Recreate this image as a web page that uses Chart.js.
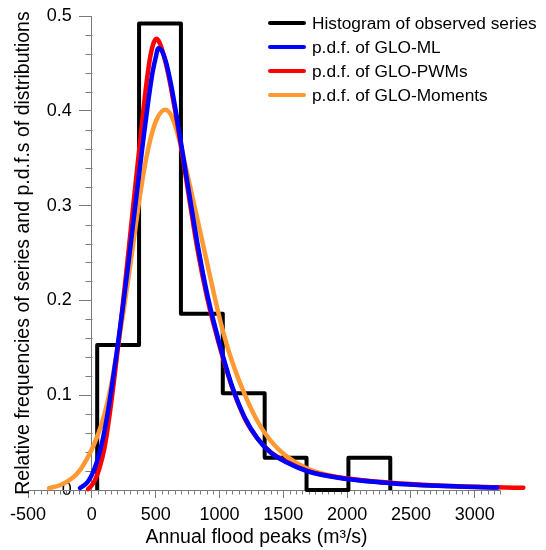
<!DOCTYPE html>
<html>
<head>
<meta charset="utf-8">
<script src="https://cdn.jsdelivr.net/npm/chart.js@4.4.1/dist/chart.umd.min.js"></script>
<style>
  body { margin: 0; background: #fff; }
  #wrap { width: 546px; height: 550px; }
</style>
</head>
<body>
<div id="wrap"><canvas id="chart" width="546" height="550"></canvas></div>
<script>
// histogram of the observed series
const binEdges = [42, 370, 698, 1026, 1354, 1682, 2010, 2338]
const relFreq = [0.153, 0.492, 0.186, 0.102, 0.034, 0, 0.034]

// p.d.f. of GLO-ML
const mlX = [-93, -60, -30, 0, 40, 80, 120, 160, 200, 240, 280, 320, 360, 400, 440, 475, 500, 521, 545, 580, 620, 660, 700, 760, 830, 900, 960, 1030, 1100, 1200, 1300, 1400, 1520, 1695, 1930, 2340, 2700, 3175]
const mlY = [0.002, 0.005, 0.009, 0.016, 0.03, 0.05, 0.078, 0.112, 0.15, 0.19, 0.232, 0.277, 0.322, 0.366, 0.408, 0.44, 0.456, 0.466, 0.464, 0.452, 0.428, 0.398, 0.365, 0.315, 0.258, 0.209, 0.175, 0.14, 0.109, 0.076, 0.054, 0.0395, 0.0295, 0.0195, 0.013, 0.0072, 0.0045, 0.0026]

// p.d.f. of GLO-PWMs
const pwmX = [-30, 0, 30, 60, 100, 140, 180, 220, 260, 300, 340, 380, 420, 455, 480, 505, 530, 560, 600, 650, 690, 760, 830, 900, 960, 1030, 1100, 1200, 1300, 1400, 1520, 1695, 1930, 2340, 2700, 3170, 3380]
const pwmY = [0.001, 0.005, 0.012, 0.023, 0.045, 0.08, 0.122, 0.168, 0.217, 0.268, 0.32, 0.37, 0.42, 0.455, 0.47, 0.476, 0.472, 0.46, 0.438, 0.402, 0.37, 0.31, 0.252, 0.205, 0.172, 0.138, 0.108, 0.075, 0.054, 0.04, 0.03, 0.02, 0.0135, 0.0076, 0.0048, 0.0029, 0.0023]

// p.d.f. of GLO-Moments
const momX = [-335, -250, -150, -93, -30, 23, 70, 114, 153, 200, 250, 300, 350, 400, 450, 505, 575, 630, 690, 740, 817, 894, 960, 1030, 1100, 1200, 1300, 1400, 1520, 1695, 1930, 2340, 2700, 3175]
const momY = [0.002, 0.005, 0.013, 0.021, 0.035, 0.05, 0.067, 0.088, 0.112, 0.148, 0.19, 0.236, 0.285, 0.33, 0.365, 0.39, 0.401, 0.393, 0.367, 0.338, 0.292, 0.245, 0.205, 0.166, 0.135, 0.1, 0.072, 0.052, 0.036, 0.022, 0.0135, 0.0074, 0.0044, 0.0025]

const xTickValues = [-500, 0, 500, 1000, 1500, 2000, 2500, 3000]
const yTickValues = [0, 0.1, 0.2, 0.3, 0.4, 0.5]

const axisColor = '#7a7a7a'
const fontFamily = '"Liberation Sans", Arial, sans-serif'

function toPoints(xs, ys) {
    return xs.map((x, i) => ({x: x, y: ys[i]}))
}

// outline of the histogram: up at the first edge, steps, down at the last edge
const histPoints = [{x: binEdges[0], y: 0}]
relFreq.forEach((f, i) => histPoints.push({x: binEdges[i], y: f}))
histPoints.push({x: binEdges[binEdges.length - 1], y: 0})

// minor ticks + bottom axis line (the axis runs on to 3200)
const minorTicks = {
    id: 'minorTicks',
    beforeDatasetsDraw(chart) {
        const c = chart.ctx
        const xs = chart.scales.x
        const ys = chart.scales.y
        const x0 = Math.round(xs.getPixelForValue(0)) + 0.5
        const y0 = Math.round(ys.getPixelForValue(0)) + 0.5
        c.save()
        c.strokeStyle = axisColor
        c.lineWidth = 1
        c.beginPath()
        c.moveTo(xs.getPixelForValue(-500), y0)
        c.lineTo(xs.getPixelForValue(3200), y0)
        for (let v = -500; v <= 3200; v += 50) {
            if (v % 500 === 0) continue
            const px = Math.round(xs.getPixelForValue(v)) + 0.5
            c.moveTo(px, y0)
            c.lineTo(px, y0 + 4)
        }
        for (let i = 1; i < 25; i++) {
            if (i % 5 === 0) continue
            const py = Math.round(ys.getPixelForValue(i * 0.02)) + 0.5
            c.moveTo(x0, py)
            c.lineTo(x0 - 7, py)
        }
        c.stroke()
        c.restore()
    }
}

// legend drawn inside the plot, top right
const boxLegend = {
    id: 'boxLegend',
    afterDraw(chart) {
        const c = chart.ctx
        c.save()
        c.font = '17.3px ' + fontFamily
        c.textBaseline = 'middle'
        c.textAlign = 'left'
        chart.data.datasets.forEach((ds, i) => {
            const y = 23 + i * 24
            c.strokeStyle = ds.borderColor
            c.lineWidth = 4
            c.lineCap = 'round'
            c.beginPath()
            c.moveTo(270, y)
            c.lineTo(304, y)
            c.stroke()
            c.fillStyle = '#000'
            c.fillText(ds.label, 312, y + 1)
        })
        c.restore()
    }
}

Chart.defaults.font.family = fontFamily
Chart.defaults.color = '#000'

const ctx = document.getElementById('chart')

const myChart = new Chart(ctx, {
    type: 'line',
    data: {
        datasets: [{
            label: 'Histogram of observed series',
            data: histPoints,
            borderColor: '#000000',
            borderWidth: 4,
            stepped: 'before',
            borderJoinStyle: 'round',
            clip: false,
            order: 4
        }, {
            label: 'p.d.f. of GLO-ML',
            data: toPoints(mlX, mlY),
            borderColor: '#0000ff',
            borderWidth: 4.5,
            cubicInterpolationMode: 'monotone',
            borderCapStyle: 'round',
            clip: false,
            order: 1
        }, {
            label: 'p.d.f. of GLO-PWMs',
            data: toPoints(pwmX, pwmY),
            borderColor: '#ff0000',
            borderWidth: 4.5,
            cubicInterpolationMode: 'monotone',
            borderCapStyle: 'round',
            clip: false,
            order: 2
        }, {
            label: 'p.d.f. of GLO-Moments',
            data: toPoints(momX, momY),
            borderColor: '#ff9933',
            borderWidth: 4.5,
            cubicInterpolationMode: 'monotone',
            borderCapStyle: 'round',
            clip: false,
            order: 3
        }]
    },
    options: {
        responsive: false,
        animation: false,
        layout: { padding: { left: 0, right: 61, top: 16, bottom: 0 } },
        elements: { point: { radius: 0 } },
        plugins: {
            legend: { display: false },
            tooltip: { enabled: false }
        },
        scales: {
            x: {
                type: 'linear',
                position: 'bottom',
                min: -500,
                bounds: 'data',
                // right end set here (not as options.max) so the red tail past it is still drawn
                afterDataLimits: (s) => { s.max = 3080 },
                afterBuildTicks: (s) => { s.ticks = xTickValues.map(v => ({value: v})) },
                afterFit: (s) => { s.height = 60 },
                ticks: {
                    font: { size: 18 }, padding: 6, maxRotation: 0, autoSkip: false,
                    callback: (v) => String(v)
                },
                grid: { drawOnChartArea: false, tickLength: 8, color: axisColor },
                border: { display: false },
                title: {
                    display: true,
                    text: 'Annual flood peaks (m³/s)',
                    font: { size: 19.5 },
                    padding: { top: 0, bottom: 1 }
                }
            },
            y: {
                type: 'linear',
                position: { x: 0 },
                min: 0,
                max: 0.5,
                afterBuildTicks: (s) => { s.ticks = yTickValues.map(v => ({value: v})) },
                ticks: {
                    font: { size: 18 },
                    // labels sit at the axis line, push them left past the tick marks
                    callback: (v) => String(v) + '    '
                },
                grid: { drawOnChartArea: false, tickLength: 12, color: axisColor },
                border: { display: true, color: axisColor }
            },
            yTitle: {
                type: 'linear',
                position: 'left',
                min: 0,
                max: 0.5,
                afterFit: (s) => { s.width = 28 },
                ticks: { display: false },
                grid: { display: false },
                border: { display: false },
                title: {
                    display: true,
                    text: 'Relative frequencies of series and p.d.f.s of distributions',
                    font: { size: 19.5 },
                    padding: { top: 12, bottom: 0 }
                }
            }
        }
    },
    plugins: [minorTicks, boxLegend]
})
</script>
</body>
</html>
